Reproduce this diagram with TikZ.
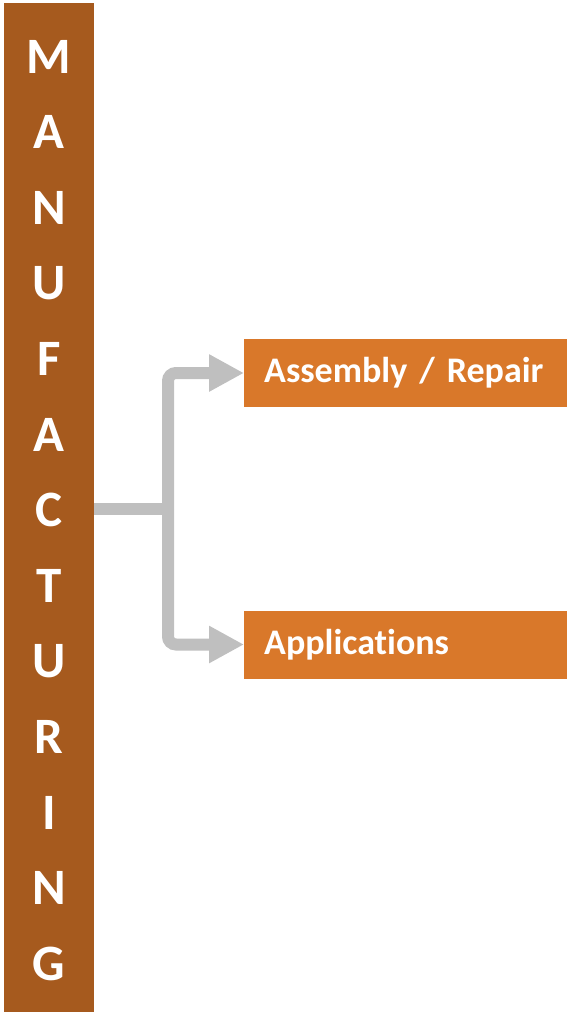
\documentclass[tikz,border=0pt]{standalone}
\usepackage{fontspec}
\setmainfont{Carlito}[RawFeature={-liga;-clig;-dlig}]
\definecolor{main}{RGB}{166,90,30}
\definecolor{second}{RGB}{217,120,42}
\definecolor{third}{RGB}{191,191,191}
\usetikzlibrary{
	arrows.meta,
	positioning
}
\tikzset{
  % node
	cstbar/.style    ={fill=main,inner sep=0pt,minimum width=90pt,minimum height=1009pt},
	cstletter/.style ={text=white,inner sep=0pt,font=\bfseries\fontsize{51}{51}\selectfont},
	cstnode/.style   ={fill=second,text=white,anchor=west,align=left,inner sep=0pt,
		text width=323pt,minimum height=68pt,
		font=\bfseries\fontsize{36}{42}\selectfont},
  % line
	cstline/.style   ={draw=third,line width=12pt},
	cstarrow/.style  ={cstline,-{Triangle[length=35pt,width=35pt]},rounded corners=8pt}
}
\begin{document}
\begin{tikzpicture}[x=1pt,y=-1pt]
	\useasboundingbox (0,0) rectangle (567,1012);
	\node[cstbar] (bar) at (49,507.5) {};
	\foreach \l [count=\i] in {M,A,N,U,F,A,C,T,U,R,I,N,G}
		\node[cstletter,anchor=base] (l\i) at (49,{73+75.6*(\i-1)}) {\l};
	\node[cstnode] (asm) at (244,373) {\hspace*{20pt}Assembly / Repair};
	\node[cstnode] (app) at (244,644.5) {\hspace*{20pt}Applications};
	\coordinate (fork) at (168,509);
	\draw[cstline] (bar.east |- fork) -- (fork);
	\draw[cstarrow] (fork) |- (asm.west);
	\draw[cstarrow] (fork) |- (app.west);
\end{tikzpicture}
\end{document}
